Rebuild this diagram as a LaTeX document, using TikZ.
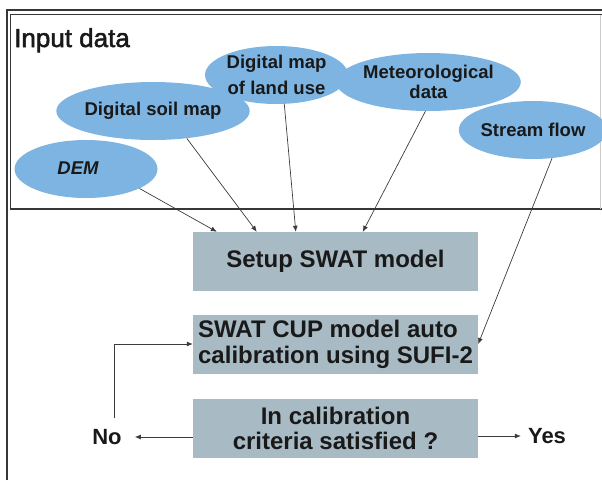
\documentclass[tikz,border=0pt]{standalone}
\usepackage{fontspec}
\setmainfont{Liberation Sans}
\newfontfamily\headingfont{Liberation Sans}[FakeBold=2]
\usetikzlibrary{shapes.geometric,arrows.meta}
\definecolor{ellblue}{RGB}{125,180,225}
\definecolor{boxgray}{RGB}{168,186,196}
\definecolor{framegray}{RGB}{55,55,55}
\definecolor{ink}{RGB}{25,25,25}
\begin{document}
\begin{tikzpicture}[x=1pt,y=-1pt,
  inputell/.style={ellipse, fill=ellblue, minimum width=143pt, minimum height=58pt,
    inner sep=0pt, font=\fontsize{18.5}{22}\selectfont\bfseries, text=ink, align=center},
  stepbox/.style={rectangle, fill=boxgray, minimum width=285pt, minimum height=59pt,
    inner sep=0pt, font=\fontsize{24}{26}\selectfont\bfseries, text=ink},
  conn/.style={draw=ink!85, line width=0.7pt, -{Latex[length=6pt,width=5pt]}},
  frame/.style={draw=framegray, line width=1.6pt},
  answer/.style={font=\fontsize{22}{24}\selectfont\bfseries, text=ink, inner sep=0pt}
]
\useasboundingbox (0,0) rectangle (602,480);

% outer frame (left and top edges) and the input-data panel
\draw[frame] (7,480) -- (7,10) -- (602,10);
\draw[frame] (602,14.5) -- (10.5,14.5) -- (10.5,209) -- (602,209);
\draw[draw=gray!40, line width=0.8pt] (600,14.5) -- (600,209);

\node[anchor=base west, font=\headingfont\fontsize{26}{28}\selectfont, text=ink, inner sep=0pt]
  (title) at (14,47) {Input data};

% input data sources
\node[inputell] (dem) at (86,169) {};
\node[font=\fontsize{18.5}{22}\selectfont\bfseries\itshape, text=ink, inner sep=0pt]
  (demtext) at (78,168) {DEM};
\node[inputell] (soil) at (153,111) {Digital soil map};
\node[inputell, font=\fontsize{18.5}{26}\selectfont\bfseries] (land) at (276.5,75)
  {Digital map\\of land use};
\node[inputell, font=\fontsize{18.5}{20}\selectfont\bfseries] (meteo) at (428.5,82)
  {Meteorological\\data};
\node[inputell] (stream) at (533,130) {Stream flow};

% processing steps
\node[stepbox] (setup) at (335.5,261.5) {Setup SWAT model};
\node[stepbox, align=left] (cup) at (335.5,344)
  {SWAT CUP model auto\\calibration using SUFI-2};
\node[stepbox, align=center, font=\fontsize{24}{25}\selectfont\bfseries] (calib)
  at (335.5,428.5) {In calibration\\criteria satisfied ?};

% decision outcomes
\node[answer] (no) at (107,437) {No};
\node[answer] (yes) at (547,436) {Yes};

% data flow into the model setup
\draw[conn] (dem.-20) -- ([xshift=24pt]setup.north west);
\draw[conn] (soil.-39) -- ([xshift=64pt]setup.north west);
\draw[conn] (land.-75) -- ([xshift=103pt]setup.north west);
\draw[conn] (meteo.-96) -- ([xshift=170pt]setup.north west);
\draw[conn] (stream.-56) -- (cup.east);

% decision branches and the recalibration loop
\draw[conn] (calib.west |- no) -- ([xshift=13pt]no.east);
\draw[conn] (calib.east |- yes) -- ([xshift=-7pt]yes.west);
\coordinate (loopfoot) at (114,418);
\draw[conn] (loopfoot) |- (cup.west);
\end{tikzpicture}
\end{document}
